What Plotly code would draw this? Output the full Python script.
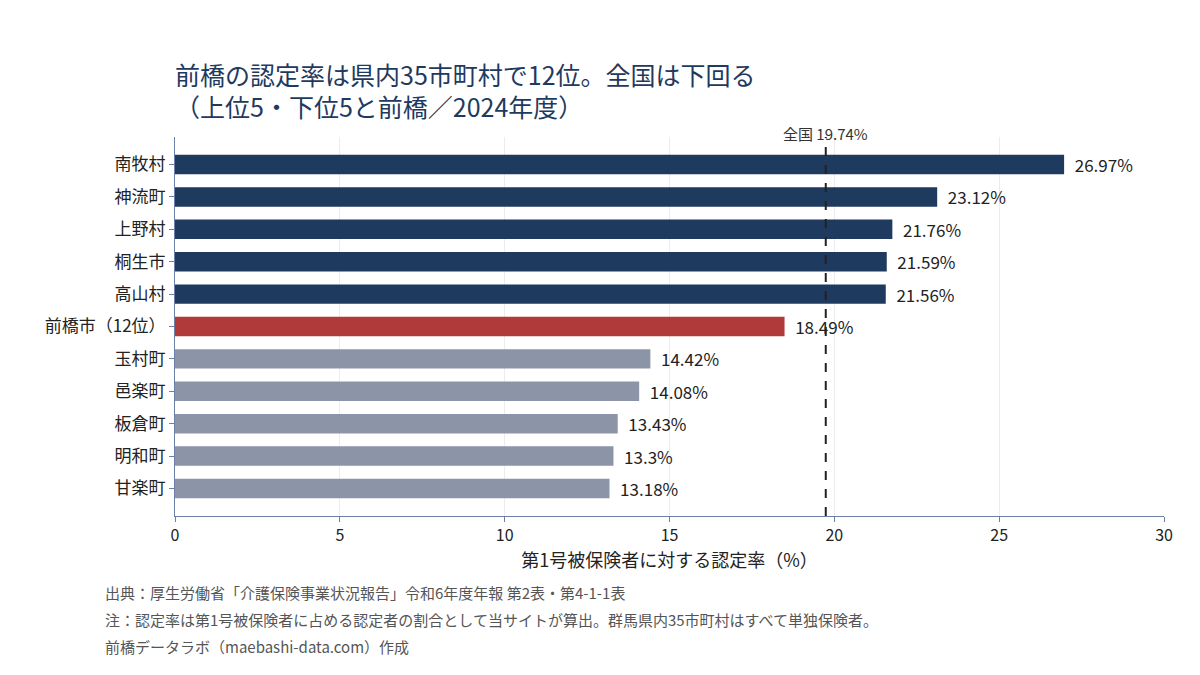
import plotly.graph_objects as go

# データ（第1号被保険者に対する認定率、%）
names = ["南牧村", "神流町", "上野村", "桐生市", "高山村", "前橋市（12位）",
         "玉村町", "邑楽町", "板倉町", "明和町", "甘楽町"]
rates = [26.97, 23.12, 21.76, 21.59, 21.56, 18.49, 14.42, 14.08, 13.43, 13.3, 13.18]
groups = ["top", "top", "top", "top", "top", "maebashi",
          "bottom", "bottom", "bottom", "bottom", "bottom"]
national = 19.74

color_map = {"top": "#1f3a5f", "maebashi": "#b03a3a", "bottom": "#8c95a8"}
colors = [color_map[g] for g in groups]
font = "Noto Sans CJK JP"

fig = go.Figure(go.Bar(
    x=rates,
    y=names,
    orientation="h",
    marker=dict(color=colors, line=dict(width=0)),
    text=[f"  {v}%" for v in rates],
    textposition="outside",
    constraintext="none",
    textfont=dict(size=17, color="#222222", family=font),
    cliponaxis=False,
    hoverinfo="skip",
))

fig.add_vline(x=national, line=dict(color="#222222", width=2, dash="dash"))
fig.add_annotation(x=national, y=1, yref="paper", yanchor="bottom", yshift=-9,
                   text=f"全国 {national}%", showarrow=False,
                   font=dict(size=15, color="#333333", family=font))

# 出典・注記（プロット領域の下）
L, R, T, B = 167, 44, 129, 167
pw, ph = 1200 - L - R, 675 - T - B
footer = [
    "出典：厚生労働省「介護保険事業状況報告」令和6年度年報 第2表・第4-1-1表",
    "注：認定率は第1号被保険者に占める認定者の割合として当サイトが算出。群馬県内35市町村はすべて単独保険者。",
    "前橋データラボ（maebashi-data.com）作成",
]
for i, t in enumerate(footer):
    py = 584 + i * 27
    fig.add_annotation(x=(95 - L) / pw, y=(675 - B - py) / ph, xref="paper", yref="paper",
                       xanchor="left", yanchor="middle", text=t, showarrow=False,
                       font=dict(size=15, color="#555555", family=font))

fig.update_layout(
    width=1200, height=675,
    paper_bgcolor="white", plot_bgcolor="white",
    font=dict(family=font, color="#222222"),
    title=dict(text="前橋の認定率は県内35市町村で12位。全国は下回る<br>（上位5・下位5と前橋／2024年度）",
               x=L / 1200, xanchor="left", y=0.886, yanchor="top",
               font=dict(size=25, color="#1f3a5f", family=font)),
    margin=dict(l=L, r=R, t=T, b=B, autoexpand=False),
    bargap=0.4,
    showlegend=False,
)
fig.update_xaxes(range=[0, 30], dtick=5, showgrid=True, gridcolor="#ececec",
                 showline=True, linecolor="#6b7fa8", ticks="outside", ticklen=5,
                 tickcolor="#6b7fa8", tickfont=dict(size=16), automargin=False,
                 title=dict(text="第1号被保険者に対する認定率（%）", font=dict(size=18), standoff=6),
                 zeroline=False)
fig.update_yaxes(range=[10.85, -0.85], showline=True, linecolor="#6b7fa8", ticks="outside",
                 ticklen=5, tickcolor="#6b7fa8", tickfont=dict(size=17), showgrid=False,
                 automargin=False)

fig.write_html("out.html")
